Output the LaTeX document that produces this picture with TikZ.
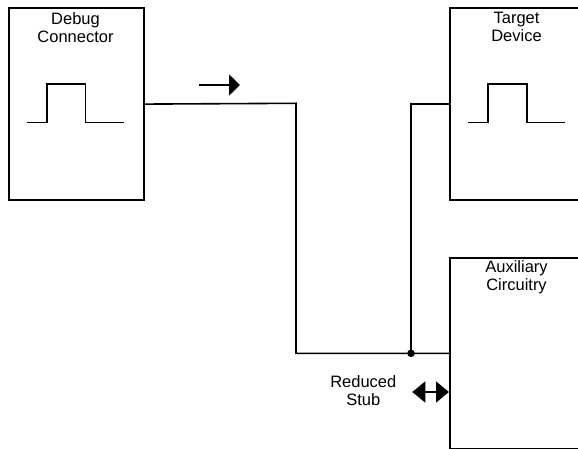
\documentclass[tikz,border=0pt]{standalone}
\usepackage{fontspec}
\setmainfont{Liberation Sans}
\usetikzlibrary{arrows.meta}
\begin{document}
\begin{tikzpicture}[x=1pt,y=-1pt,
  box/.style={draw=black, line width=1.6pt, fill=white, minimum width=135pt, minimum height=192pt, anchor=north west, inner sep=0pt},
  lbl/.style={font=\fontsize{16.5}{18.3}\selectfont, align=center, inner sep=0pt, anchor=north},
  wire/.style={draw=black, line width=1.6pt},
  pulse/.style={draw=black, line width=1.6pt},
  sig/.style={line width=1.6pt, -{Triangle[length=11pt,width=21pt]}},
  stubarrow/.style={line width=1.6pt, {Triangle[length=13pt,width=21pt]}-{Triangle[length=13pt,width=21pt]}}
]
\useasboundingbox[fill=white] (0,0) rectangle (578,449);
\clip (0,0) rectangle (578,449);
% boxes
\node[box] (debug) at (8,7.3) {};
\node[box] (target) at (449,7.3) {};
\node[box, minimum height=190.2pt] (aux) at (449,257.3) {};
% labels
\node[lbl] (debuglbl) at (75.5,12) {Debug\\Connector};
\node[lbl] (targetlbl) at (516.5,12) {Target\\Device};
\node[lbl] (auxlbl) at (516.5,260.5) {Auxiliary\\Circuitry};
\node[lbl] (stublbl) at (363.3,375.5) {Reduced\\Stub};
% pulses
\draw[pulse] (26.7,122.7) -- (46.7,122.7) -- (46.7,84.3) -- (85.3,84.3) -- (85.3,122.7) -- (124,122.7);
\draw[pulse] (468.3,122.7) -- (487.7,122.7) -- (487.7,84.3) -- (526.7,84.3) -- (526.7,122.7) -- (565,122.7);
% wiring
\coordinate (bendA) at (296,103.3);
\coordinate (bendB) at (296,353.3);
\coordinate (junc) at (411,353.3);
\draw[wire] (debug.east) -- (bendA) -- (bendB) -- (junc) -- (junc -| aux.west);
\draw[wire] (junc) |- (target.west);
\fill (junc) circle (3.8pt);
% signal arrow
\coordinate (sigA) at (199.3,85);
\coordinate (sigB) at (240,85);
\draw[sig] (sigA) -- (sigB);
% stub arrow
\coordinate (stubA) at (412.3,392);
\draw[stubarrow] (stubA) -- (aux.west |- stubA);
\end{tikzpicture}
\end{document}
